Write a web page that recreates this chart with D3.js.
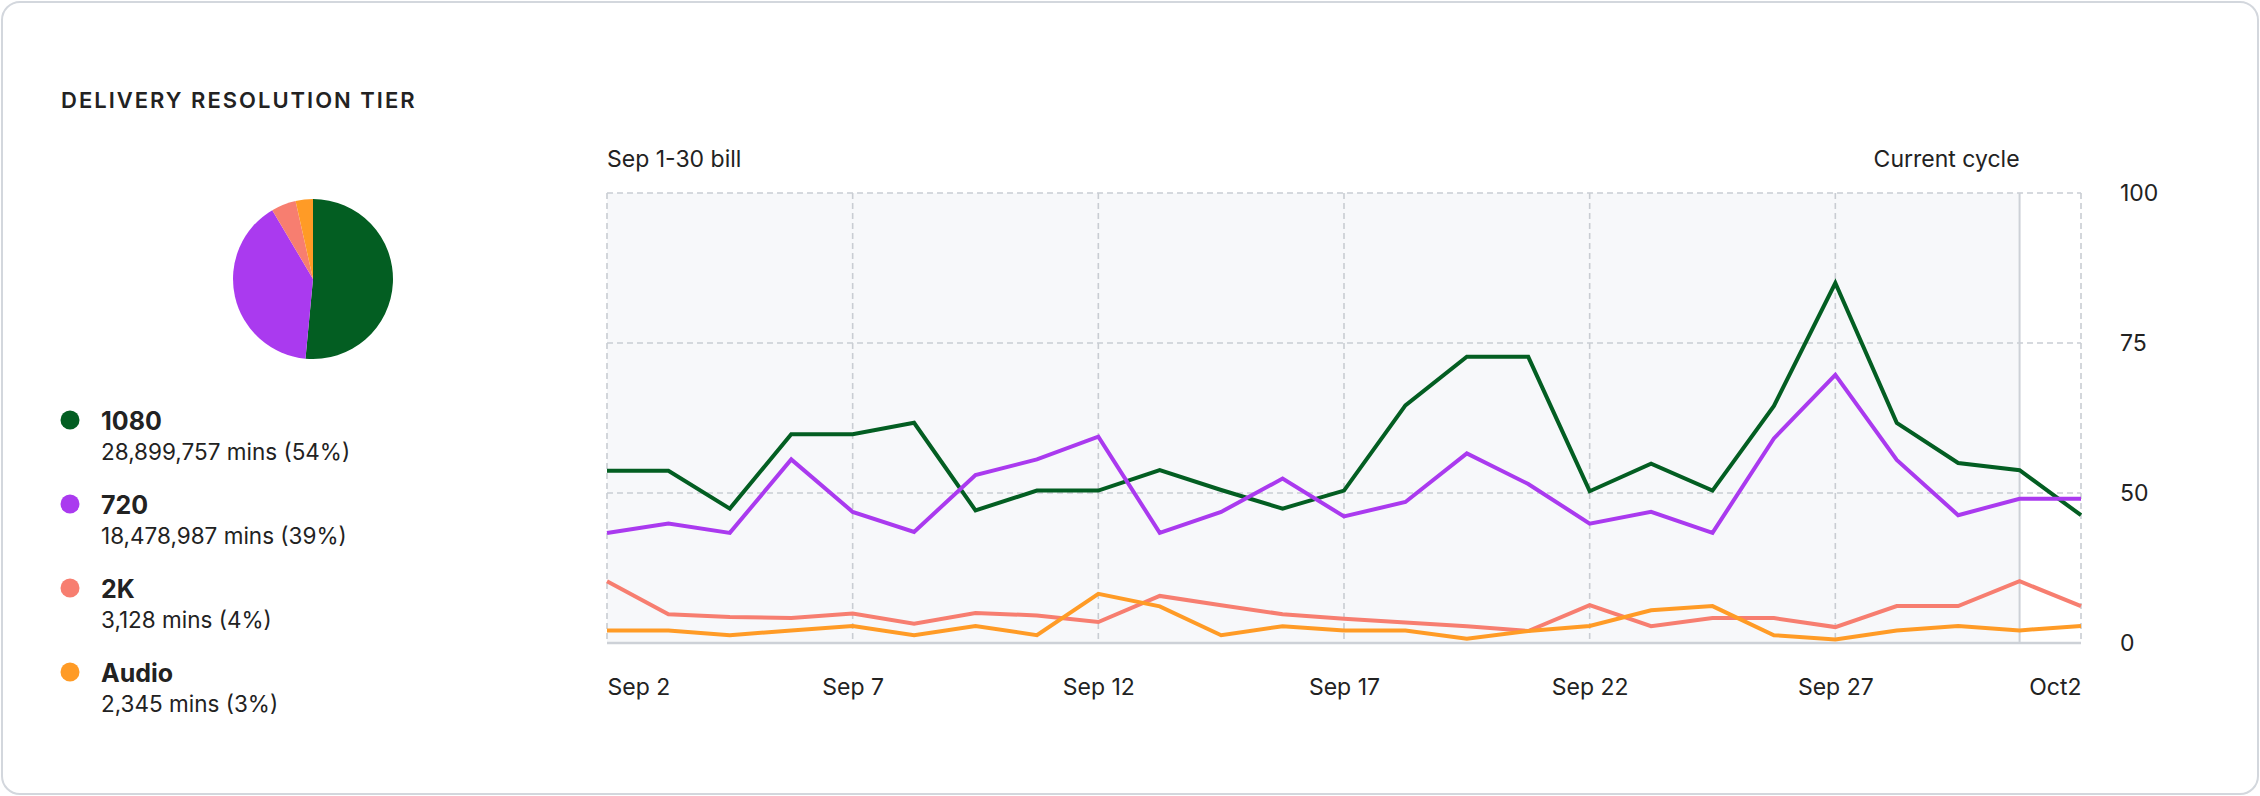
<!DOCTYPE html>
<html>
<head>
<meta charset="utf-8">
<script src="https://cdn.jsdelivr.net/npm/d3@7"></script>
<style>
body { margin: 0; background: #fff; }
svg { display: block; font-family: Inter, "Noto Sans", sans-serif; }
</style>
</head>
<body>
<svg id="chart" width="2260" height="796"></svg>
<script>
// legend / pie
var tiers = ["1080", "720", "2K", "Audio"];
var tierColors = ["#035e22", "#aa3aef", "#f77e70", "#ff9b26"];
var tierMinutes = ["28,899,757 mins (54%)", "18,478,987 mins (39%)", "3,128 mins (4%)", "2,345 mins (3%)"];
var pieShares = [51.5, 40, 5, 3.5];

// x axis: 25 samples, labels every 4th sample
var tickLabels = ["Sep 2", "Sep 7", "Sep 12", "Sep 17", "Sep 22", "Sep 27", "Oct2"];
var tickIndex = [0, 4, 8, 12, 16, 20, 24];
var currentCycleIndex = 23;
var yTicks = [0, 50, 75, 100];

var series1080 = [53.7, 53.7, 44.8, 59.8, 59.8, 61.7, 44.2, 50.4, 50.4, 53.8, 50.5, 44.8, 50.4,
                  64.6, 72.7, 72.7, 50.3, 54.9, 50.4, 64.5, 85.0, 61.7, 55.0, 53.8, 42.6];
var series720  = [36.7, 39.8, 36.7, 55.6, 43.7, 37.0, 53.0, 55.6, 59.4, 36.7, 43.7, 52.4, 42.2,
                  47.0, 56.6, 51.5, 39.8, 43.7, 36.7, 59.1, 69.7, 55.5, 42.6, 48.1, 48.1];
var series2K   = [20.6, 9.6, 8.7, 8.3, 9.8, 6.4, 10.0, 9.2, 7.0, 15.7, 12.6, 9.6, 8.1,
                  6.8, 5.6, 4.0, 12.6, 5.6, 8.3, 8.3, 5.3, 12.3, 12.3, 20.6, 12.3];
var seriesAudio = [4.2, 4.2, 2.6, 4.2, 5.7, 2.6, 5.7, 2.6, 16.4, 12.2, 2.6, 5.6, 4.2,
                   4.2, 1.4, 4.0, 5.7, 10.9, 12.3, 2.6, 1.2, 4.2, 5.7, 4.2, 5.7];

var allSeries = [series1080, series720, series2K, seriesAudio];

var svg = d3.select("#chart");

// card
svg.append("rect")
  .attr("x", 2).attr("y", 2)
  .attr("width", 2256).attr("height", 792)
  .attr("rx", 18)
  .attr("fill", "#fff")
  .attr("stroke", "#d3d7dd")
  .attr("stroke-width", 2);

svg.append("text")
  .attr("x", 61).attr("y", 108)
  .attr("font-size", 22)
  .attr("font-weight", 600)
  .attr("letter-spacing", 2)
  .attr("fill", "#222")
  .text("DELIVERY RESOLUTION TIER");

// pie
var pie = d3.pie().sort(null);
var arc = d3.arc().innerRadius(0).outerRadius(80);
svg.append("g")
  .attr("transform", "translate(313,279)")
  .selectAll("path")
  .data(pie(pieShares))
  .enter()
  .append("path")
  .attr("d", arc)
  .attr("fill", function(d, i) { return tierColors[i]; });

// legend
var leg = svg.append("g")
  .selectAll("g")
  .data(tiers)
  .enter()
  .append("g")
  .attr("transform", function(d, i) { return "translate(0," + (420 + i * 84) + ")"; });

leg.append("circle")
  .attr("cx", 70).attr("cy", 0).attr("r", 9.5)
  .attr("fill", function(d, i) { return tierColors[i]; });

leg.append("text")
  .attr("x", 101).attr("y", 10)
  .attr("font-size", 25)
  .attr("font-weight", 700)
  .attr("fill", "#222")
  .text(function(d) { return d; });

leg.append("text")
  .attr("x", 101).attr("y", 40)
  .attr("font-size", 22.5)
  .attr("fill", "#222")
  .text(function(d, i) { return tierMinutes[i]; });

// line chart
var x = d3.scaleLinear().domain([0, 24]).range([607, 2081]);
var y = d3.scaleLinear().domain([0, 50, 75, 100]).range([643, 493, 343, 193]);

svg.append("rect")
  .attr("x", x(0)).attr("y", y(100))
  .attr("width", x(currentCycleIndex) - x(0))
  .attr("height", y(0) - y(100))
  .attr("fill", "#f7f8fa");

svg.append("g")
  .selectAll("line")
  .data(yTicks.filter(function(d) { return d > 0; }))
  .enter()
  .append("line")
  .attr("x1", x(0)).attr("x2", x(24))
  .attr("y1", function(d) { return y(d); })
  .attr("y2", function(d) { return y(d); })
  .attr("stroke", "#c9cdd3")
  .attr("stroke-width", 1.6)
  .attr("stroke-dasharray", "6,4");

svg.append("g")
  .selectAll("line")
  .data(tickIndex)
  .enter()
  .append("line")
  .attr("x1", function(d) { return x(d); })
  .attr("x2", function(d) { return x(d); })
  .attr("y1", y(100)).attr("y2", y(0))
  .attr("stroke", "#c9cdd3")
  .attr("stroke-width", 1.6)
  .attr("stroke-dasharray", "6,4");

svg.append("line")
  .attr("x1", x(currentCycleIndex)).attr("x2", x(currentCycleIndex))
  .attr("y1", y(100)).attr("y2", y(0))
  .attr("stroke", "#cdd1d7")
  .attr("stroke-width", 2);

svg.append("line")
  .attr("x1", x(0)).attr("x2", x(24))
  .attr("y1", y(0)).attr("y2", y(0))
  .attr("stroke", "#cdd1d7")
  .attr("stroke-width", 2.5);

var line = d3.line()
  .x(function(d, i) { return x(i); })
  .y(function(d) { return y(d); });

svg.append("g")
  .selectAll("path")
  .data(allSeries)
  .enter()
  .append("path")
  .attr("d", line)
  .attr("fill", "none")
  .attr("stroke", function(d, i) { return tierColors[i]; })
  .attr("stroke-width", 4)
  .attr("stroke-linejoin", "miter");

// axes
var xAxis = svg.append("g")
  .attr("transform", "translate(0," + y(0) + ")")
  .call(d3.axisBottom(x)
    .tickValues(tickIndex)
    .tickSize(0)
    .tickPadding(36)
    .tickFormat(function(d, i) { return tickLabels[i]; }));
xAxis.select(".domain").remove();
xAxis.selectAll("text")
  .attr("font-size", 23)
  .attr("font-family", "Inter, sans-serif")
  .attr("fill", "#222")
  .attr("text-anchor", function(d, i) { return i == 0 ? "start" : (i == tickIndex.length - 1 ? "end" : "middle"); });

var yAxis = svg.append("g")
  .attr("transform", "translate(" + x(24) + ",0)")
  .call(d3.axisRight(y).tickValues(yTicks).tickSize(0).tickPadding(39));
yAxis.select(".domain").remove();
yAxis.selectAll("text")
  .attr("font-size", 23)
  .attr("font-family", "Inter, sans-serif")
  .attr("fill", "#222");

svg.append("text")
  .attr("x", x(0)).attr("y", 167)
  .attr("font-size", 23)
  .attr("fill", "#222")
  .text("Sep 1-30 bill");

svg.append("text")
  .attr("x", x(currentCycleIndex)).attr("y", 167)
  .attr("text-anchor", "end")
  .attr("font-size", 23)
  .attr("fill", "#222")
  .text("Current cycle");
</script>
</body>
</html>
